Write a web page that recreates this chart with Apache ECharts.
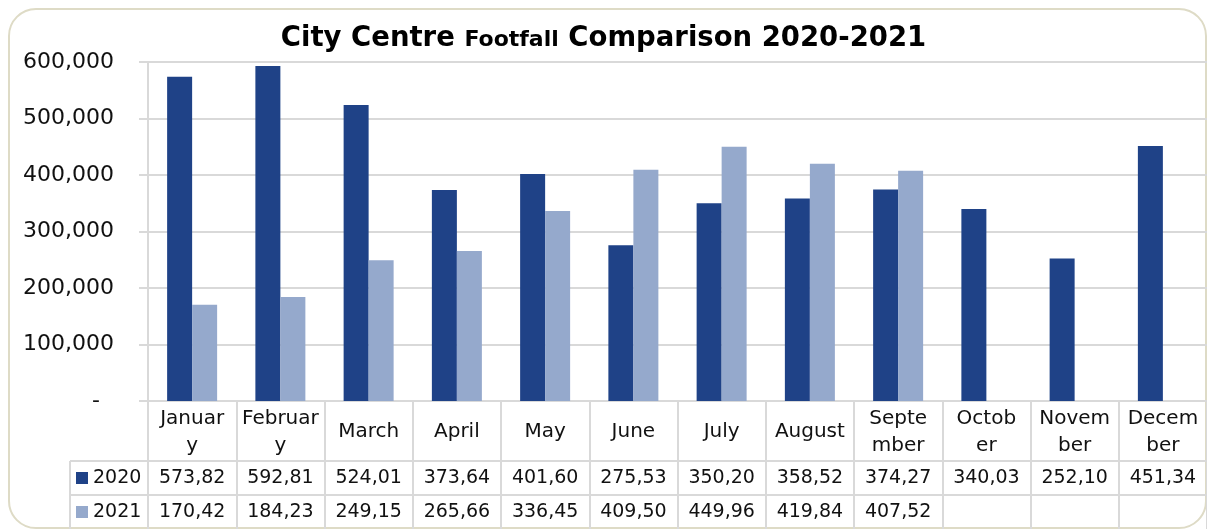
<!DOCTYPE html>
<html>
<head>
<meta charset="utf-8">
<title>City Centre Footfall Comparison 2020-2021</title>
<script src="https://cdn.jsdelivr.net/npm/echarts@6/dist/echarts.min.js"></script>
<style>
  html, body { margin: 0; padding: 0; background: #fff; }
  #wrap { position: relative; width: 1207px; height: 529px; overflow: hidden; }
  #frame {
    position: absolute; left: 8px; top: 8px; width: 1195px; height: 517px;
    border: 2px solid #dedbc6; border-radius: 28px;
  }
  #chart { position: absolute; left: 0; top: 0; width: 1207px; height: 529px; }
</style>
</head>
<body>
<div id="wrap">
  <div id="frame"></div>
  <div id="chart"></div>
</div>
<script>
  // months as they wrap in the table header
  const months = ['Januar\ny', 'Februar\ny', 'March', 'April', 'May', 'June', 'July', 'August', 'Septe\nmber', 'Octob\ner', 'Novem\nber', 'Decem\nber']
  const footfall2020 = [573820, 592810, 524010, 373640, 401600, 275530, 350200, 358520, 374270, 340030, 252100, 451340]
  const footfall2021 = [170420, 184230, 249150, 265660, 336450, 409500, 449960, 419840, 407520, null, null, null]
  const yTicks = [0, 100000, 200000, 300000, 400000, 500000, 600000]

  const font = 'DejaVu Sans'
  const gridColor = '#d9d9d9'
  const color2020 = '#1f4287'
  const color2021 = '#95a9cc'

  // table cell text, cut the way the narrow cells show it
  const cell = v => (v == null ? '' : (v / 1000).toFixed(2).replace('.', ','))

  const chart = echarts.init(document.getElementById('chart'))

  const tableRow = (vals, offset) => ({
    type: 'category',
    position: 'bottom',
    offset: offset,
    data: vals.map(cell),
    axisLine: { show: true, lineStyle: { color: gridColor, width: 2 } },
    axisTick: { show: false },
    axisLabel: {
      interval: 0, margin: 17, verticalAlign: 'middle',
      fontFamily: font, fontSize: 19, color: '#111'
    }
  })

  chart.setOption({
    animation: false,
    title: {
      text: '{a|City Centre }{b|Footfall}{a| Comparison 2020-2021}',
      left: 'center',
      top: 20,
      textStyle: {
        rich: {
          a: { fontFamily: font, fontWeight: 'bold', fontSize: 27.5, verticalAlign: 'bottom', color: '#000' },
          b: { fontFamily: font, fontWeight: 'bold', fontSize: 22, verticalAlign: 'bottom', color: '#000', padding: [0, 0, 2, 0] }
        }
      }
    },
    legend: [
      {
        left: 76, top: 468, padding: 0,
        itemWidth: 12, itemHeight: 12, icon: 'rect',
        textStyle: { fontFamily: font, fontSize: 19, lineHeight: 20, color: '#111' },
        data: ['2020']
      },
      {
        left: 76, top: 502, padding: 0,
        itemWidth: 12, itemHeight: 12, icon: 'rect',
        textStyle: { fontFamily: font, fontSize: 19, lineHeight: 20, color: '#111' },
        data: ['2021']
      }
    ],
    grid: { left: 148, right: 0, top: 62, bottom: 128 },
    xAxis: [
      {
        type: 'category',
        data: months,
        axisLine: { lineStyle: { color: gridColor, width: 2 } },
        axisTick: { show: true, interval: 0, length: 128, lineStyle: { color: gridColor, width: 2 } },
        axisLabel: {
          interval: 0, margin: 31, verticalAlign: 'middle',
          fontFamily: font, fontSize: 20, lineHeight: 27, color: '#111'
        }
      },
      tableRow(footfall2020, 60),
      tableRow(footfall2021, 94)
    ],
    yAxis: {
      type: 'value',
      min: yTicks[0],
      max: yTicks[yTicks.length - 1],
      interval: yTicks[1] - yTicks[0],
      axisLine: { show: true, lineStyle: { color: gridColor, width: 2 } },
      axisTick: { show: true, length: 9, lineStyle: { color: gridColor, width: 2 } },
      splitLine: { lineStyle: { color: gridColor, width: 2 } },
      axisLabel: {
        margin: 34,
        fontFamily: font, fontSize: 22, color: '#111',
        formatter: v => (v === 0 ? '-  ' : v.toLocaleString('en-US'))
      }
    },
    series: [
      {
        name: '2020', type: 'bar', xAxisIndex: 0,
        data: footfall2020, barWidth: 25, barGap: '0%',
        itemStyle: { color: color2020 }
      },
      {
        name: '2021', type: 'bar', xAxisIndex: 0,
        data: footfall2021, barWidth: 25, barGap: '0%',
        itemStyle: { color: color2021 }
      }
    ],
    graphic: [
      // left part of the data table (legend column)
      { type: 'line', shape: { x1: 70, y1: 461, x2: 148, y2: 461 }, style: { stroke: gridColor, lineWidth: 2 } },
      { type: 'line', shape: { x1: 70, y1: 495, x2: 148, y2: 495 }, style: { stroke: gridColor, lineWidth: 2 } },
      { type: 'line', shape: { x1: 70, y1: 461, x2: 70, y2: 529 }, style: { stroke: gridColor, lineWidth: 2 } }
    ]
  })
</script>
</body>
</html>
